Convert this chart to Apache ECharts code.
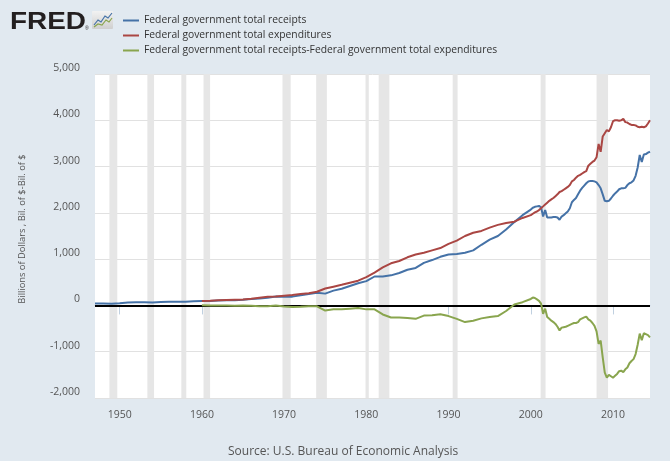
<!DOCTYPE html>
<html><head><meta charset="utf-8">
<script src="https://cdn.jsdelivr.net/npm/echarts@6/dist/echarts.min.js"></script>
<style>html,body{margin:0;padding:0;background:#e1e9f0;} #c{width:670px;height:461px;}</style>
</head><body><div id="c"></div>
<script>
// x positions (decimal years): annual 1947-1999, quarterly 2000-2014Q3
const dates = [
  1947,1948,1949,1950,1951,1952,1953,1954,1955,1956,1957,1958,1959,
  1960,1961,1962,1963,1964,1965,1966,1967,1968,1969,
  1970,1971,1972,1973,1974,1975,1976,1977,1978,1979,
  1980,1981,1982,1983,1984,1985,1986,1987,1988,1989,
  1990,1991,1992,1993,1994,1995,1996,1997,1998,1999,
  2000,2000.25,2000.5,2000.75,2001,2001.25,2001.5,2001.75,
  2002,2002.25,2002.5,2002.75,2003,2003.25,2003.5,2003.75,
  2004,2004.25,2004.5,2004.75,2005,2005.25,2005.5,2005.75,
  2006,2006.25,2006.5,2006.75,2007,2007.25,2007.5,2007.75,
  2008,2008.25,2008.5,2008.75,2009,2009.25,2009.5,2009.75,
  2010,2010.25,2010.5,2010.75,2011,2011.25,2011.5,2011.75,
  2012,2012.25,2012.5,2012.75,2013,2013.25,2013.5,2013.75,
  2014,2014.25,2014.5
];
const receipts = [
  40,42,38,48,62,66,70,63,72,78,81,77,89,
  96,97,106,113,114,123,140,147,168,192,
  186,190,218,248,275,255,320,360,420,480,
  525,625,625,650,700,770,810,920,980,1050,
  1100,1110,1140,1190,1310,1420,1500,1640,1800,1950,
  2070,2110,2130,2140,2150,2120,1920,2060,
  1900,1900,1900,1910,1910,1900,1850,1920,
  1950,1990,2030,2100,2230,2280,2320,2400,
  2480,2540,2590,2640,2680,2690,2690,2680,
  2660,2600,2530,2400,2260,2250,2260,2310,
  2370,2420,2460,2510,2530,2530,2540,2600,
  2640,2660,2700,2800,2980,3250,3100,3260,
  3270,3300,3320
];
const expenditures = [
  null,null,null,null,null,null,null,null,null,null,null,null,null,
  93,100,110,116,122,127,145,167,185,195,
  210,225,245,265,295,365,405,445,490,535,
  610,710,820,910,960,1040,1100,1140,1190,1240,
  1330,1400,1500,1570,1610,1680,1740,1780,1810,1890,
  1950,1980,2010,2030,2060,2100,2140,2180,
  2220,2260,2290,2320,2360,2400,2450,2470,
  2500,2530,2560,2600,2680,2710,2760,2800,
  2820,2850,2880,2900,3020,3060,3100,3130,
  3200,3490,3320,3650,3720,3790,3760,3850,
  3980,4000,4000,3990,4000,4030,3960,3950,
  3920,3900,3900,3890,3860,3850,3860,3850,
  3870,3930,4000
];
const balance = [
  null,null,null,null,null,null,null,null,null,null,null,null,null,
  3,-3,-4,-3,-8,-4,-5,-20,-17,-3,
  -24,-35,-27,-17,-20,-110,-85,-85,-70,-55,
  -85,-85,-195,-260,-260,-270,-290,-220,-210,-190,
  -230,-290,-360,-330,-280,-250,-230,-120,20,70,
  140,170,160,130,100,40,-180,-70,
  -250,-290,-330,-360,-400,-460,-540,-480,
  -470,-460,-440,-420,-400,-380,-380,-360,
  -300,-280,-260,-240,-300,-330,-380,-440,
  -560,-830,-760,-1120,-1450,-1560,-1500,-1530,
  -1560,-1520,-1480,-1420,-1410,-1440,-1380,-1340,
  -1250,-1200,-1160,-1050,-850,-610,-750,-600,
  -620,-640,-690
];
const seriesNames = [
  'Federal government total receipts',
  'Federal government total expenditures',
  'Federal government total receipts-Federal government total expenditures'
];
const xTickYears = [1950,1960,1970,1980,1990,2000,2010];
const recessions = [
  [1948.75,1949.71],[1953.37,1954.18],[1957.5,1958.1],[1960.2,1961.0],
  [1969.8,1970.8],[1973.9,1975.2],[1979.9,1980.3],[1981.5,1982.8],
  [1990.5,1991.1],[2001.2,2001.8],[2008.0,2009.4]
];
const colors = ['#4572a7','#aa4643','#89a54e'];
const FONT = 'Open Sans';

function pts(vals){
  const out=[];
  dates.forEach((d,i)=>{ if(vals[i]!=null) out.push([d, vals[i]]); });
  return out;
}

const chart = echarts.init(document.getElementById('c'), null, {renderer:'canvas'});
chart.setOption({
  backgroundColor:'#e1e9f0',
  animation:false,
  textStyle:{fontFamily:FONT},
  grid:{left:95,right:20,top:74,bottom:63,show:true,backgroundColor:'#ffffff',borderWidth:0,containLabel:false},
  legend:{
    orient:'vertical', left:123, top:13, padding:0, itemGap:0, itemWidth:16, itemHeight:2, icon:'rect',
    textStyle:{fontSize:10.3, color:'#333', lineHeight:15, fontFamily:FONT},
    data:seriesNames
  },
  xAxis:{
    type:'value', min:1947, max:2014.5,
    axisLine:{show:true, lineStyle:{color:'#c0d0e0', width:1}},
    axisTick:{show:true, customValues:xTickYears, length:9, lineStyle:{color:'#c0d0e0'}},
    axisLabel:{customValues:xTickYears, formatter:v=>String(Math.round(v)), color:'#555', fontSize:10.5, margin:12, fontFamily:FONT},
    splitLine:{show:false}
  },
  yAxis:{
    type:'value', min:-2000, max:5000, interval:1000,
    name:'Billions of Dollars , Bil. of $-Bil. of $',
    nameLocation:'middle', nameGap:68,
    nameTextStyle:{color:'#555', fontSize:9.3, fontFamily:FONT, padding:[0,0,0,14]},
    axisLine:{show:false}, axisTick:{show:false},
    axisLabel:{color:'#555', fontSize:10.5, margin:15, fontFamily:FONT, verticalAlign:'bottom', lineHeight:12,
      formatter:v=>v.toLocaleString('en-US')},
    splitLine:{lineStyle:{color:'#e1e1e1', width:1}}
  },
  series:[
    {name:seriesNames[0], type:'line', data:pts(receipts), showSymbol:false, symbol:'none',
      lineStyle:{color:colors[0], width:2}, itemStyle:{color:colors[0]}, z:3,
      markArea:{silent:true, itemStyle:{color:'#e6e6e6'}, data:recessions.map(r=>[{xAxis:r[0]},{xAxis:r[1]}])},
      markLine:{silent:true, symbol:'none', label:{show:false}, lineStyle:{color:'#000', width:2, type:'solid'}, data:[{yAxis:0}]}
    },
    {name:seriesNames[1], type:'line', data:pts(expenditures), showSymbol:false, symbol:'none',
      lineStyle:{color:colors[1], width:2}, itemStyle:{color:colors[1]}, z:4},
    {name:seriesNames[2], type:'line', data:pts(balance), showSymbol:false, symbol:'none',
      lineStyle:{color:colors[2], width:2}, itemStyle:{color:colors[2]}, z:5}
  ],
  graphic:[
    {type:'text', x:10, y:9.5, scaleX:1.14, style:{text:'FRED', fontSize:24.5, fontWeight:900, fill:'#231f20', fontFamily:'Liberation Sans'}},
    {type:'text', left:85, top:26, style:{text:'®', fontSize:5, fill:'#231f20', fontFamily:'Liberation Sans'}},
    {type:'rect', shape:{x:92, y:11, width:21, height:18, r:1},
      style:{fill:new echarts.graphic.LinearGradient(0,0,0,1,[{offset:0,color:'#f2f2f2'},{offset:1,color:'#cfcfcf'}])}},
    {type:'polyline', shape:{points:[[94,25],[98,20],[101,22],[105,16],[108,18],[112,13]]}, style:{stroke:'#4572a7', lineWidth:1.2, fill:null}},
    {type:'polyline', shape:{points:[[94,27],[98,24],[102,25],[106,20],[109,22],[112,18]]}, style:{stroke:'#89a54e', lineWidth:1.2, fill:null}},
    {type:'text', left:228, top:446, style:{text:'Source: U.S. Bureau of Economic Analysis', fontSize:12, fill:'#555', fontFamily:FONT}}
  ]
});
</script></body></html>
